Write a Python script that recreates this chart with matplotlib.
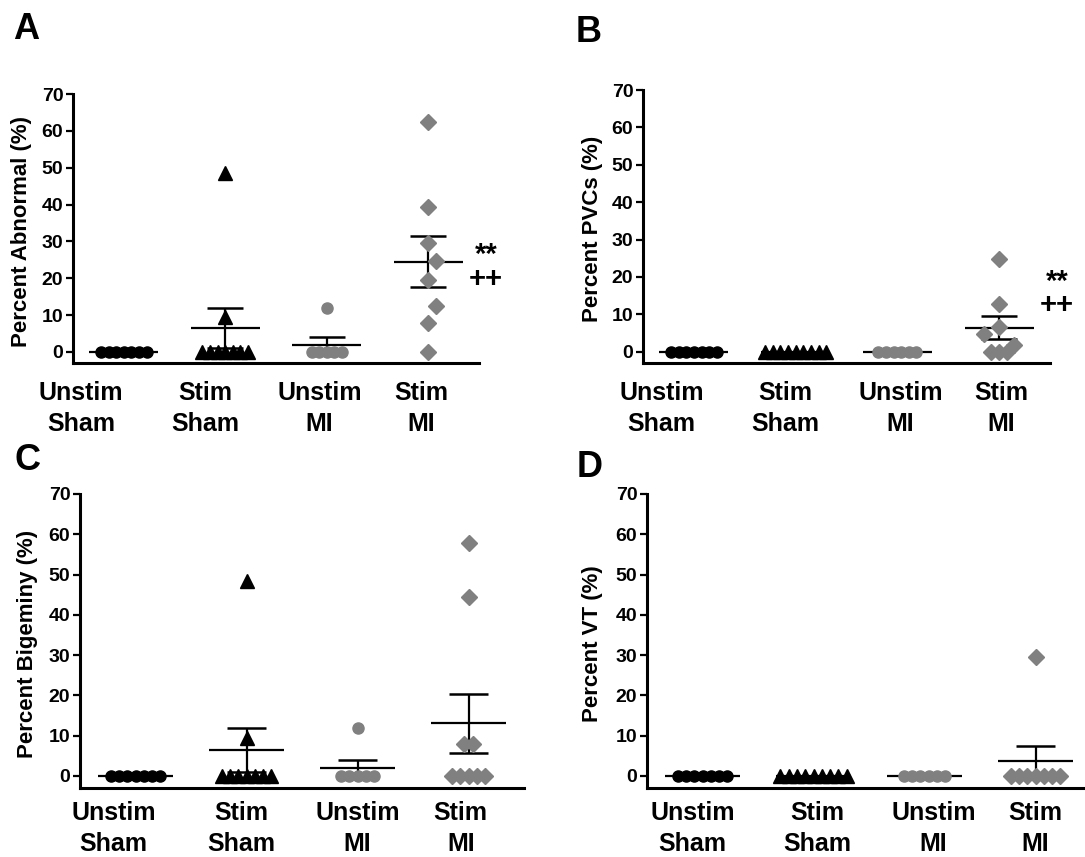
import numpy as np
import matplotlib.pyplot as plt

plt.rcParams['font.family'] = ['Liberation Sans', 'DejaVu Sans']
plt.rcParams['font.weight'] = 'bold'

groups = ['Unstim\nSham', 'Stim\nSham', 'Unstim\nMI', 'Stim\nMI']
ticks = [0, 10, 20, 30, 40, 50, 60, 70]

# A - percent abnormal beats
abn_unstim_sham = [0, 0, 0, 0, 0, 0, 0]
abn_stim_sham = [48.5, 9.5, 0, 0, 0, 0, 0, 0, 0]
abn_unstim_mi = [12, 0, 0, 0, 0, 0]
abn_stim_mi = [62.4, 39.3, 29.6, 24.7, 19.5, 12.5, 7.9, 0]

# B - percent PVCs
pvc_unstim_sham = [0, 0, 0, 0, 0, 0, 0]
pvc_stim_sham = [0, 0, 0, 0, 0, 0, 0, 0, 0]
pvc_unstim_mi = [0, 0, 0, 0, 0, 0]
pvc_stim_mi = [24.9, 12.9, 6.7, 4.8, 1.9, 0, 0, 0]

# C - percent bigeminy
big_unstim_sham = [0, 0, 0, 0, 0, 0, 0]
big_stim_sham = [48.5, 9.5, 0, 0, 0, 0, 0, 0, 0]
big_unstim_mi = [12, 0, 0, 0, 0, 0]
big_stim_mi = [57.8, 44.4, 7.9, 7.9, 0, 0, 0, 0, 0]

# D - percent VT
vt_unstim_sham = [0, 0, 0, 0, 0, 0, 0]
vt_stim_sham = [0, 0, 0, 0, 0, 0, 0, 0, 0]
vt_unstim_mi = [0, 0, 0, 0, 0, 0]
vt_stim_mi = [29.5, 0, 0, 0, 0, 0, 0, 0]

markers = ['o', '^', 'o', 'D']
msizes = [8, 10, 8, 8]
colors = ['black', 'black', '#808080', '#808080']

W, H = 1085, 857


def swarm(vals, step=0.075, ygap=5.5):
    # simple beeswarm: push overlapping points sideways
    vals = np.asarray(vals, dtype=float)
    offs = np.zeros(len(vals))
    placed = []
    for i in np.argsort(vals, kind='stable'):
        v = vals[i]
        for k in [0, 1, -1, 2, -2, 3, -3, 4, -4, 5, -5]:
            dx = k * step
            if all(abs(dx - px) >= step * 0.99 or abs(v - pv) >= ygap
                   for px, pv in placed):
                break
        placed.append((dx, v))
        offs[i] = dx
    # isolated rows of equal values get centred
    for v in np.unique(vals):
        same = vals == v
        near = np.abs(vals - v) < ygap
        if same.sum() > 1 and (near == same).all():
            n = same.sum()
            offs[same] = (np.arange(n) - (n - 1) / 2) * step
    return offs


def panel(box, data, ylabel, letter, letter_xy, lab_x, lab_pad, lab_sp, ylab_x):
    l, r, t, b = box
    ax = fig.add_axes([l / W, 1 - b / H, (r - l) / W, (b - t) / H])
    for g, vals in enumerate(data):
        x0 = g + 1
        vals = np.asarray(vals, dtype=float)
        m = vals.mean()
        sem = vals.std(ddof=1) / np.sqrt(len(vals))
        ax.hlines(m, x0 - 0.34, x0 + 0.34, color='black', lw=1.6, zorder=2)
        if sem > 0:
            ax.vlines(x0, m - sem, m + sem, color='black', lw=1.6, zorder=2)
            ax.hlines([m - sem, m + sem], x0 - 0.175, x0 + 0.175,
                      color='black', lw=1.8, zorder=2)
        ax.plot(x0 + swarm(vals), vals, ls='none', marker=markers[g],
                ms=msizes[g], color=colors[g], mec=colors[g], zorder=3,
                clip_on=False)
    ax.set_xlim(0.5, 4.5)
    ax.set_ylim(-3, 70)
    ax.set_yticks(ticks)
    for s in ['top', 'right']:
        ax.spines[s].set_visible(False)
    for s in ['left', 'bottom']:
        ax.spines[s].set_linewidth(2.2)
    ax.tick_params(axis='y', direction='out', length=5, width=1.6,
                   labelsize=14, pad=2)
    ax.set_xticks(lab_x)
    ax.set_xticklabels(groups, fontsize=18, linespacing=lab_sp)
    ax.tick_params(axis='x', length=0, pad=lab_pad)
    ax.set_ylabel(ylabel, fontsize=16, fontweight='bold', va='center')
    ax.yaxis.set_label_coords(ylab_x, 0.49)
    fig.text(letter_xy[0] / W, 1 - letter_xy[1] / H, letter, fontsize=26,
             fontweight='bold', ha='left', va='top')
    return ax


fig = plt.figure(figsize=(W / 100, H / 100), dpi=100)

axA = panel((73, 479, 94, 363),
            [abn_unstim_sham, abn_stim_sham, abn_unstim_mi, abn_stim_mi],
            'Percent Abnormal (%)', 'A', (13, 12),
            [0.58, 1.8, 2.93, 3.93], 13, 1.35, -0.128)
axB = panel((643, 1050, 90, 363),
            [pvc_unstim_sham, pvc_stim_sham, pvc_unstim_mi, pvc_stim_mi],
            'Percent PVCs (%)', 'B', (576, 15),
            [0.68, 1.9, 3.03, 4.02], 13, 1.35, -0.125)
axC = panel((80, 524, 494, 788),
            [big_unstim_sham, big_stim_sham, big_unstim_mi, big_stim_mi],
            'Percent Bigeminy (%)', 'C', (15, 443),
            [0.8, 1.95, 3.0, 3.93], 9, 1.42, -0.119)
axD = panel((647, 1091, 494, 788),
            [vt_unstim_sham, vt_stim_sham, vt_unstim_mi, vt_stim_mi],
            'Percent VT (%)', 'D', (577, 450),
            [0.91, 2.03, 3.08, 4.0], 9, 1.42, -0.122)

# significance marks next to Stim MI (vs sham ** / vs unstim ++)
for ax, y in [(axA, 23.0), (axB, 15.6)]:
    ax.text(4.40, y, '**\n++', fontsize=21, fontweight='bold',
            ha='left', va='center', multialignment='center',
            linespacing=0.8, clip_on=False)

fig.savefig('out.png', dpi=100)
